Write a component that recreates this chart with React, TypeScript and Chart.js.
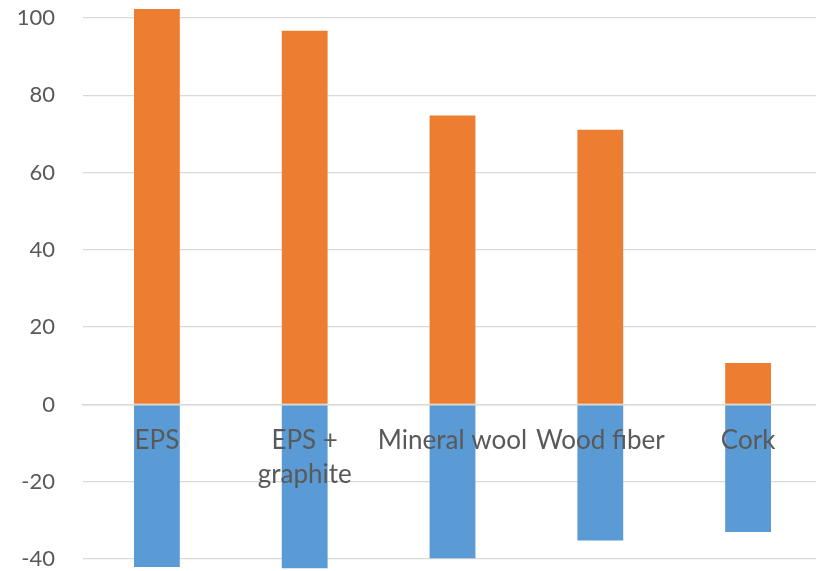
import React, { useEffect, useRef } from "react";
import { Chart, registerables } from "chart.js";

Chart.register(...registerables);

// Insulation materials shown along the x axis
const categories: (string | string[])[] = [
  "EPS",
  ["EPS +", "graphite"],
  "Mineral wool",
  "Wood fiber",
  "Cork",
];

// Positive contribution (orange) and negative contribution (blue)
const positiveValues = [102.3, 96.7, 74.8, 71.1, 10.7];
const negativeValues = [-42.1, -42.4, -39.8, -35.2, -33.0];

// Value axis range and step
const yMin = -40;
const yMax = 100;
const yStep = 20;

const ORANGE = "#ED7D31";
const BLUE = "#5B9BD5";
const GRID = "#d9d9d9";
const TEXT = "#595959";

export default function App() {
  const canvasRef = useRef<HTMLCanvasElement | null>(null);

  useEffect(() => {
    if (!canvasRef.current) return;
    const chart = new Chart(canvasRef.current, {
      type: "bar",
      data: {
        labels: categories,
        datasets: [
          {
            label: "Positive",
            data: positiveValues,
            backgroundColor: ORANGE,
            borderWidth: 0,
            clip: false,
          },
          {
            label: "Negative",
            data: negativeValues,
            backgroundColor: BLUE,
            borderWidth: 0,
            clip: false,
          },
        ],
      },
      options: {
        responsive: false,
        animation: false,
        devicePixelRatio: 1,
        layout: { padding: { top: 18, bottom: 12, left: 0, right: 8 } },
        datasets: {
          bar: { barPercentage: 1, categoryPercentage: 0.31 },
        },
        plugins: {
          legend: { display: false },
          tooltip: { enabled: false },
          title: { display: false },
        },
        scales: {
          x: {
            stacked: true,
            position: { y: 0 },
            afterFit: (scale: any) => {
              scale.height = 0;
            },
            grid: { display: false, drawTicks: false },
            border: { display: true, color: GRID, width: 1.5, z: 1 },
            ticks: {
              z: 1,
              color: TEXT,
              padding: 19,
              maxRotation: 0,
              autoSkip: false,
              font: { family: "Lato", size: 26, lineHeight: 1.32 },
            },
          },
          y: {
            stacked: true,
            min: yMin,
            max: yMax,
            afterFit: (scale: any) => {
              // keep the plot area edges where the layout padding puts them
              scale.width = 83;
              scale.paddingTop = 0;
              scale.paddingBottom = 0;
            },
            grid: { color: GRID, lineWidth: 1.3, drawTicks: false },
            border: { display: false },
            ticks: {
              stepSize: yStep,
              color: TEXT,
              padding: 28,
              font: { family: "Lato", size: 22 },
            },
          },
        },
      },
    } as any);
    return () => chart.destroy();
  }, []);

  return (
    <div
      style={{
        position: "fixed",
        left: 0,
        top: 0,
        width: 816,
        height: 571,
        overflow: "hidden",
        background: "#ffffff",
      }}
    >
      <canvas
        ref={canvasRef}
        width={830}
        height={571}
        style={{ display: "block", width: 830, height: 571 }}
      />
    </div>
  );
}
